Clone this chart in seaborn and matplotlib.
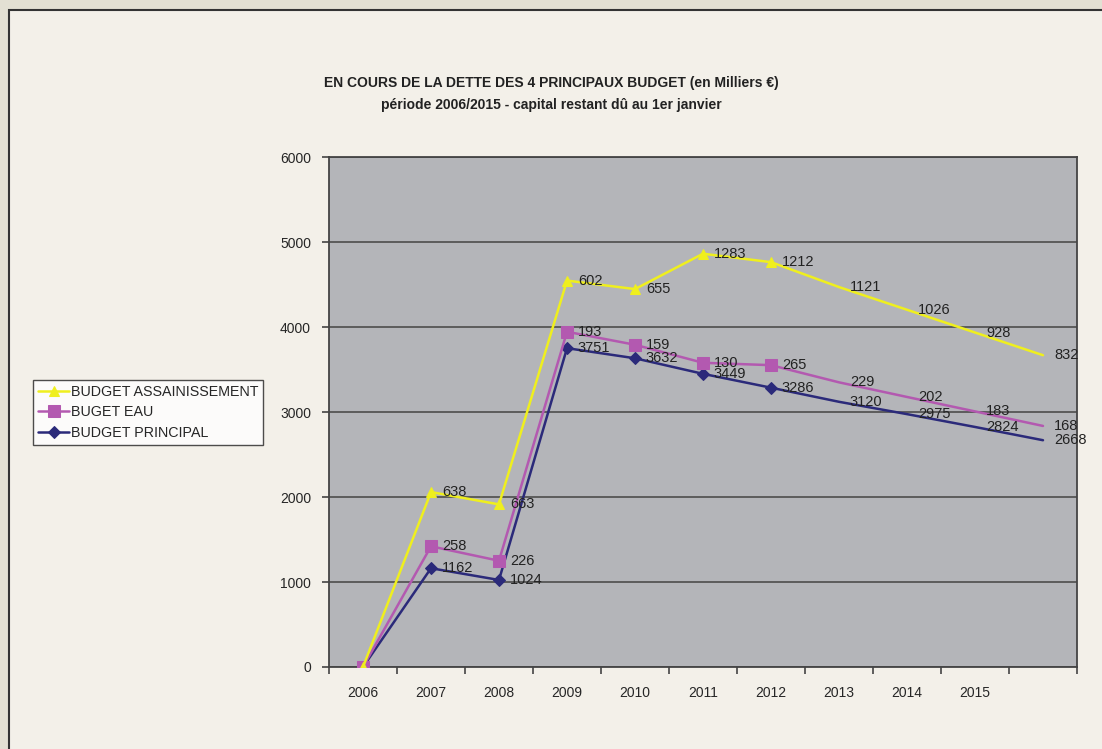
import numpy as np
import pandas as pd
import matplotlib
matplotlib.use("Agg")
import matplotlib.pyplot as plt
import seaborn as sns
from matplotlib.patches import Rectangle

# values (thousands of euros), one label per category
years = ["2006", "2007", "2008", "2009", "2010", "2011", "2012", "2013", "2014", "2015", ""]
principal = [0, 1162, 1024, 3751, 3632, 3449, 3286, 3120, 2975, 2824, 2668]
eau = [0, 258, 226, 193, 159, 130, 265, 229, 202, 183, 168]
assainissement = [0, 638, 663, 602, 655, 1283, 1212, 1121, 1026, 928, 832]
n_marked = 7  # markers only shown 2006-2012

sns.set_style("white")
plt.rcParams["font.family"] = ["Liberation Sans", "DejaVu Sans"]

# stacked line chart, like the excel original
series = [
    ("BUDGET PRINCIPAL", principal, "#2B2A7A", "D", 6),
    ("BUGET EAU", eau, "#B359B0", "s", 8),
    ("BUDGET ASSAINISSEMENT", assainissement, "#EFEF1E", "^", 7),
]
x = np.arange(len(years))
cum = np.cumsum([s[1] for s in series], axis=0)

fig = plt.figure(figsize=(11.02, 7.49), dpi=100, facecolor="#E3E0D3")
fig.patches.append(Rectangle((9 / 1102, -0.01), 1.1, 1 - 10 / 749 + 0.01,
                             transform=fig.transFigure, facecolor="#F3F0E9",
                             edgecolor="#333333", lw=1.5, zorder=-10))
ax = fig.add_axes([329 / 1102, 1 - 667 / 749, 748 / 1102, 510 / 749])
ax.set_zorder(1)
ax.set_facecolor("#B4B5B9")

handles = {}
for (name, vals, color, mk, ms), top in zip(series, cum):
    df = pd.DataFrame({"x": x, "y": top})
    sns.lineplot(data=df, x="x", y="y", ax=ax, color=color, lw=1.8,
                 marker=mk, markersize=ms, markeredgecolor=color,
                 markevery=list(range(n_marked)), zorder=3)
    handles[name] = ax.lines[-1]
    for xi, yi, v in zip(x[1:], top[1:], vals[1:]):
        ax.text(xi + 0.16, yi, str(v), fontsize=10.5, color="#222222",
                va="center", ha="left", zorder=4)

ax.set_xlim(-0.5, len(years) - 0.5)
ax.set_ylim(0, 6000)
ax.set_yticks(range(0, 6001, 1000))
ax.set_xticks(x)
ax.set_xticklabels(years)
ax.set_xticks(np.arange(-0.5, len(years), 1), minor=True)
ax.tick_params(axis="x", which="major", bottom=True, length=0, labelsize=10, pad=14)
ax.tick_params(axis="x", which="minor", bottom=True, length=5, width=1.2,
               direction="out", color="#444444")
ax.tick_params(axis="y", left=True, length=5, width=1.2, direction="out",
               color="#444444", labelsize=10, pad=8)
ax.set_xlabel("")
ax.set_ylabel("")
ax.grid(axis="y", color="#555555", lw=1.3)
ax.set_axisbelow(True)
for side in ax.spines.values():
    side.set_color("#444444")
    side.set_linewidth(1.3)

order = ["BUDGET ASSAINISSEMENT", "BUGET EAU", "BUDGET PRINCIPAL"]
fig.legend([handles[k] for k in order], order, loc="upper left",
           bbox_to_anchor=(33 / 1102, 1 - 380 / 749), frameon=True,
           fancybox=False, edgecolor="#222222", facecolor="white",
           fontsize=10.3, handlelength=2.2, handletextpad=0.1,
           borderpad=0.35, labelspacing=0.45, borderaxespad=0)

fig.text(0.5, 1 - 83 / 749, "EN COURS DE LA DETTE DES 4 PRINCIPAUX BUDGET (en Milliers €)",
         ha="center", va="center", fontsize=10, fontweight="bold", color="#222222")
fig.text(0.5, 1 - 105 / 749, "période 2006/2015 - capital restant dû au 1er janvier",
         ha="center", va="center", fontsize=10, fontweight="bold", color="#222222")

fig.savefig("out.png", dpi=100, facecolor=fig.get_facecolor())
